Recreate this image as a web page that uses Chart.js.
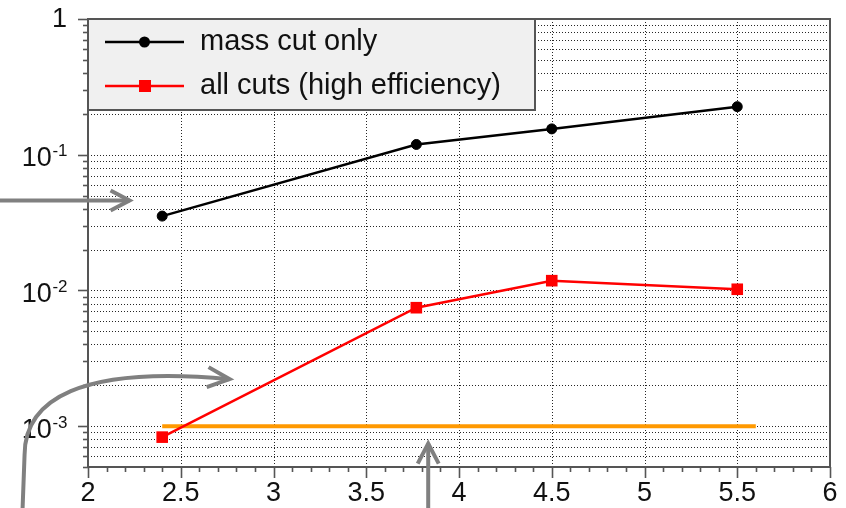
<!DOCTYPE html>
<html>
<head>
<meta charset="utf-8">
<title>Background rejection vs mass</title>
<script src="https://cdn.jsdelivr.net/npm/chart.js@4.4.1/dist/chart.umd.min.js"></script>
<style>
  html, body { margin: 0; padding: 0; background: #ffffff; }
  #wrap { width: 846px; height: 508px; }
  canvas { display: block; }
</style>
</head>
<body>
<div id="wrap"><canvas id="chart" width="846" height="508"></canvas></div>
<script>
// ---- data -------------------------------------------------------------
const xValues = [2.4, 3.77, 4.5, 5.5];
const massCutOnly = [0.0353, 0.119, 0.155, 0.226];
const allCutsHighEff = [0.00083, 0.00746, 0.0118, 0.0102];
const limitX = [2.4, 5.6];
const limitY = [0.001, 0.001];

const seriesLabels = ['mass cut only', 'all cuts (high efficiency)'];

// ---- axes -------------------------------------------------------------
const xMin = 2, xMax = 6;
const yMin = 0.0005, yMax = 1;
const xTickValues = [2, 2.5, 3, 3.5, 4, 4.5, 5, 5.5, 6];
const xTickLabels = ['2', '2.5', '3', '3.5', '4', '4.5', '5', '5.5', '6'];
const xMinorStep = 0.1;
const yTickValues = [1, 0.1, 0.01, 0.001];
const yTickBases = ['1', '10', '10', '10'];
const yTickExponents = ['', '-1', '-2', '-3'];

// ---- annotation arrows (in data units) --------------------------------
const arrowStraight = [[1.512, 0.046], [2.224, 0.046]];
const arrowCurved = [[1.647, 0.000241], [1.658, 0.000612], [1.658, 0.001556], [1.954, 0.00282], [2.763, 0.00222]];
const arrowUp = [[3.834, 0.000241], [3.834, 0.000744]];

const FONT = "'Liberation Sans', Arial, Helvetica, sans-serif";
const FRAME = '#555555';

function pts(xs, ys) { return xs.map((x, i) => ({ x: x, y: ys[i] })); }

// log-scale minor grid positions: k * 10^e inside the axis range
function logSubTicks(lo, hi) {
  const out = [];
  for (let e = Math.floor(Math.log10(lo)); e <= Math.ceil(Math.log10(hi)); e++) {
    for (let k = 1; k <= 9; k++) {
      const v = k * Math.pow(10, e);
      if (v >= lo * 0.9999 && v <= hi * 1.0001) out.push({ v: v, major: k === 1 });
    }
  }
  return out;
}

function drawHead(ctx, tipX, tipY, fromX, fromY, len, half) {
  const a = Math.atan2(tipY - fromY, tipX - fromX);
  const c = Math.cos(a), s = Math.sin(a);
  ctx.beginPath();
  ctx.moveTo(tipX - len * c + half * s, tipY - len * s - half * c);
  ctx.lineTo(tipX, tipY);
  ctx.lineTo(tipX - len * c - half * s, tipY - len * s + half * c);
  ctx.stroke();
}

const decorations = {
  id: 'decorations',
  beforeDatasetsDraw(chart) {
    const { ctx, chartArea: a, scales: { x, y } } = chart;
    ctx.save();
    ctx.strokeStyle = '#262626';
    ctx.lineWidth = 1;
    ctx.setLineDash([1, 2]);
    // horizontal dotted grid at every decade subdivision
    logSubTicks(yMin, yMax).forEach(t => {
      const py = Math.round(y.getPixelForValue(t.v)) + 0.5;
      if (py <= a.top + 1 || py >= a.bottom - 1) return;
      ctx.beginPath(); ctx.moveTo(a.left, py); ctx.lineTo(a.right, py); ctx.stroke();
    });
    // vertical dotted grid at labelled x ticks
    xTickValues.forEach(v => {
      const px = Math.round(x.getPixelForValue(v)) + 0.5;
      if (px <= a.left + 1 || px >= a.right - 1) return;
      ctx.beginPath(); ctx.moveTo(px, a.top); ctx.lineTo(px, a.bottom); ctx.stroke();
    });
    ctx.setLineDash([]);

    // legend box
    const lx0 = a.left, ly0 = a.top, lx1 = 535, ly1 = 110;
    ctx.fillStyle = '#f0f0f0';
    ctx.fillRect(lx0, ly0, lx1 - lx0, ly1 - ly0);
    ctx.strokeStyle = FRAME;
    ctx.lineWidth = 2;
    ctx.strokeRect(lx0, ly0, lx1 - lx0, ly1 - ly0);
    const rows = [42, 86];
    chart.data.datasets.slice(0, 2).forEach((ds, i) => {
      const ry = rows[i];
      ctx.strokeStyle = ds.borderColor;
      ctx.lineWidth = ds.borderWidth;
      ctx.beginPath(); ctx.moveTo(105, ry); ctx.lineTo(184, ry); ctx.stroke();
      ctx.fillStyle = ds.pointBackgroundColor;
      if (ds.pointStyle === 'rect') {
        ctx.fillRect(139, ry - 6, 12, 12);
      } else {
        ctx.beginPath(); ctx.arc(144.5, ry, 5.5, 0, Math.PI * 2); ctx.fill();
      }
      ctx.fillStyle = '#111111';
      ctx.font = '29px ' + FONT;
      ctx.textAlign = 'left';
      ctx.textBaseline = 'alphabetic';
      ctx.fillText(ds.label, 200, ry + 8);
    });
    ctx.restore();
  },
  afterDraw(chart) {
    const { ctx, chartArea: a, scales: { x, y } } = chart;
    ctx.save();
    // frame
    ctx.strokeStyle = FRAME;
    ctx.lineWidth = 2;
    ctx.strokeRect(a.left, a.top, a.right - a.left, a.bottom - a.top);

    // x ticks (outside, below the axis)
    ctx.lineWidth = 1.6;
    const nMinor = Math.round((xMax - xMin) / xMinorStep);
    for (let i = 0; i <= nMinor; i++) {
      const v = xMin + i * xMinorStep;
      const major = xTickValues.some(t => Math.abs(t - v) < 1e-6);
      const px = Math.round(x.getPixelForValue(v)) + 0.5;
      ctx.beginPath(); ctx.moveTo(px, a.bottom); ctx.lineTo(px, a.bottom + (major ? 11 : 5)); ctx.stroke();
    }
    // y ticks (outside, left of the axis)
    logSubTicks(yMin, yMax).forEach(t => {
      const py = Math.round(y.getPixelForValue(t.v)) + 0.5;
      ctx.beginPath(); ctx.moveTo(a.left, py); ctx.lineTo(a.left - (t.major ? 10 : 5), py); ctx.stroke();
    });

    // x labels
    ctx.fillStyle = '#111111';
    ctx.font = '27px ' + FONT;
    ctx.textAlign = 'center';
    ctx.textBaseline = 'alphabetic';
    xTickValues.forEach((v, i) => {
      ctx.fillText(xTickLabels[i], x.getPixelForValue(v), 501);
    });

    // y labels, powers of ten with superscript exponents
    const right = 67;
    yTickValues.forEach((v, i) => {
      const py = y.getPixelForValue(v);
      const base = yTickBases[i], exp = yTickExponents[i];
      ctx.textAlign = 'left';
      if (exp) {
        ctx.font = '17px ' + FONT;
        const ew = ctx.measureText(exp).width;
        ctx.font = '27px ' + FONT;
        const bw = ctx.measureText(base).width;
        const x0 = right - ew - bw;
        ctx.fillText(base, x0, py + 11.7);
        ctx.font = '17px ' + FONT;
        ctx.fillText(exp, x0 + bw + 0.5, py + 1.7);
      } else {
        ctx.font = '27px ' + FONT;
        const bw = ctx.measureText(base).width;
        ctx.fillText(base, right - bw, py + 8);
      }
    });

    // annotation arrows
    ctx.strokeStyle = '#808080';
    ctx.lineWidth = 4;
    ctx.lineCap = 'butt';
    ctx.lineJoin = 'miter';
    const P = p => [x.getPixelForValue(p[0]), y.getPixelForValue(p[1])];

    let s0 = P(arrowStraight[0]), s1 = P(arrowStraight[1]);
    ctx.beginPath(); ctx.moveTo(s0[0], s0[1]); ctx.lineTo(s1[0], s1[1]); ctx.stroke();
    drawHead(ctx, s1[0], s1[1], s0[0], s0[1], 19, 10);

    const c = arrowCurved.map(P);
    ctx.beginPath();
    ctx.moveTo(c[0][0], c[0][1]);
    ctx.lineTo(c[1][0], c[1][1]);
    ctx.bezierCurveTo(c[2][0], c[2][1], c[3][0], c[3][1], c[4][0], c[4][1]);
    ctx.stroke();
    drawHead(ctx, c[4][0], c[4][1], c[3][0], c[3][1], 22, 10);

    let u0 = P(arrowUp[0]), u1 = P(arrowUp[1]);
    ctx.beginPath(); ctx.moveTo(u0[0], u0[1]); ctx.lineTo(u1[0], u1[1]); ctx.stroke();
    drawHead(ctx, u1[0], u1[1], u0[0], u0[1], 20, 10.5);

    ctx.restore();
  }
};

new Chart(document.getElementById('chart'), {
  type: 'line',
  data: {
    datasets: [
      {
        label: seriesLabels[0],
        data: pts(xValues, massCutOnly),
        borderColor: '#000000',
        backgroundColor: '#000000',
        pointBackgroundColor: '#000000',
        pointBorderColor: '#000000',
        borderWidth: 2.5,
        pointStyle: 'circle',
        pointRadius: 5,
        pointBorderWidth: 1,
        tension: 0,
        order: 1
      },
      {
        label: seriesLabels[1],
        data: pts(xValues, allCutsHighEff),
        borderColor: '#ff0000',
        backgroundColor: '#ff0000',
        pointBackgroundColor: '#ff0000',
        pointBorderColor: '#ff0000',
        borderWidth: 2.5,
        pointStyle: 'rect',
        pointRadius: 8.2,
        pointBorderWidth: 0,
        tension: 0,
        order: 2
      },
      {
        label: 'limit',
        data: pts(limitX, limitY),
        borderColor: '#ff9900',
        borderWidth: 4,
        pointRadius: 0,
        tension: 0,
        order: 3
      }
    ]
  },
  options: {
    responsive: false,
    animation: false,
    devicePixelRatio: 1,
    layout: { padding: { left: 0, top: 19, right: 16, bottom: 0 } },
    plugins: { legend: { display: false }, tooltip: { enabled: false } },
    scales: {
      x: {
        type: 'linear', min: xMin, max: xMax,
        grid: { display: false }, border: { display: false },
        ticks: { display: false },
        afterFit(scale) { scale.height = 41; }
      },
      y: {
        type: 'logarithmic', min: yMin, max: yMax,
        grid: { display: false }, border: { display: false },
        ticks: { display: false },
        afterFit(scale) { scale.width = 88; }
      }
    }
  },
  plugins: [decorations]
});
</script>
</body>
</html>
